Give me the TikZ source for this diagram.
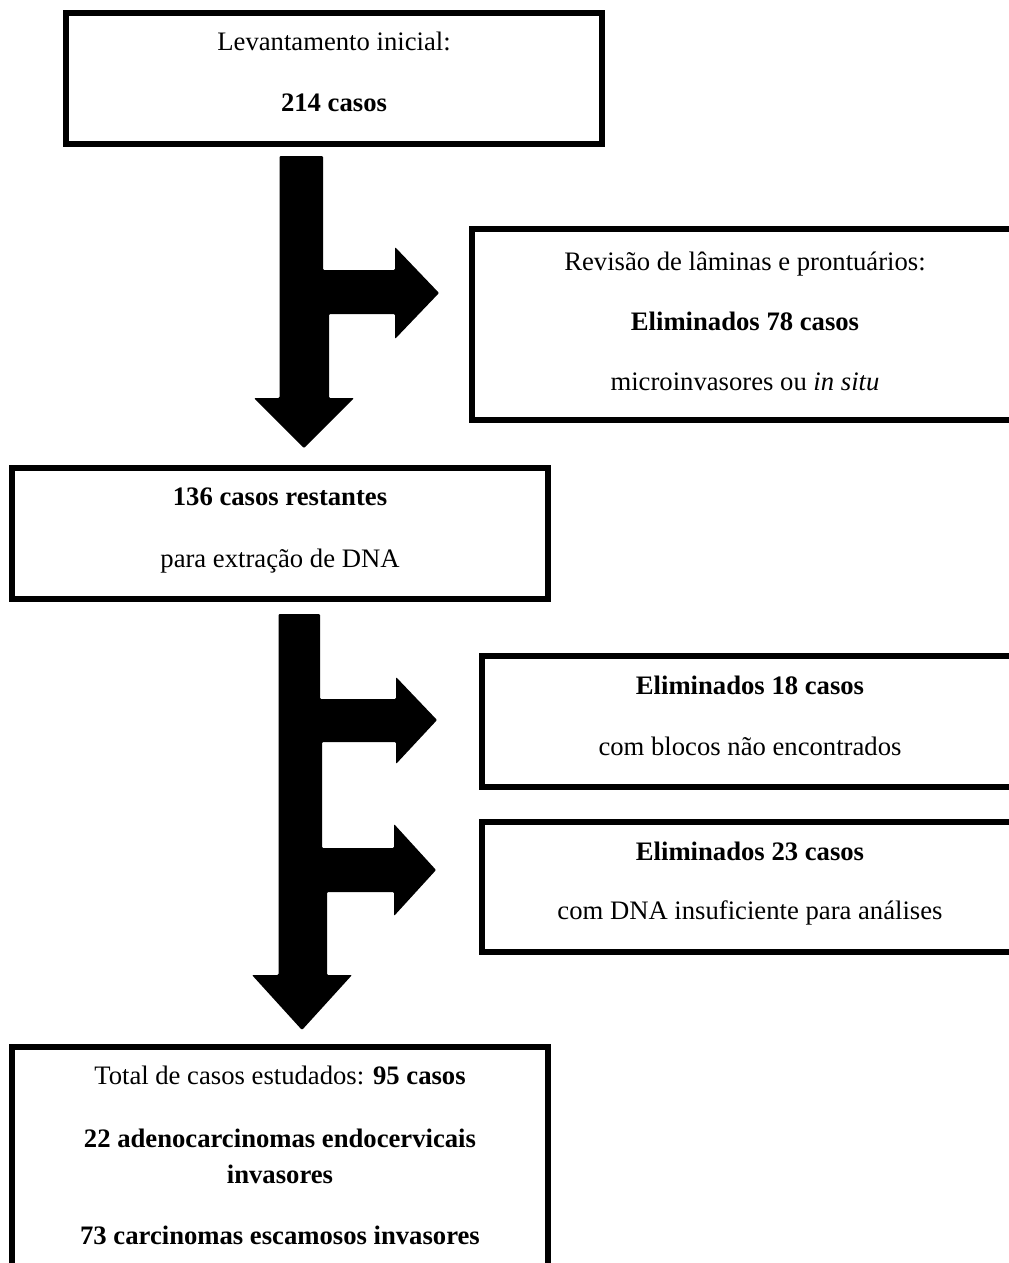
\documentclass[tikz,border=0pt]{standalone}
\usepackage{fontspec}
\setmainfont{Liberation Serif}
\usetikzlibrary{fit}
\begin{document}
\begin{tikzpicture}[x=0.75pt,y=-0.75pt,
  box/.style={draw=black,line width=4.1pt,inner sep=0pt,rectangle},
  txt/.style={anchor=base,inner sep=0pt,font=\fontsize{20}{24}\selectfont},
  blockarrow/.style={fill=black,rounded corners=0.8pt}]
\clip (0,0) rectangle (1009,1263);
\fill[white] (0,0) rectangle (1009,1263);
% boxes
\node[box,fit={(66,13) (602,144)}] (b1) {};
\node[box,fit={(472,229) (1018,420)}] (b2) {};
\node[box,fit={(12,468) (548,599)}] (b3) {};
\node[box,fit={(482,656) (1018,787)}] (b4) {};
\node[box,fit={(482,822) (1018,952)}] (b5) {};
\node[box,fit={(12,1047) (548,1300)}] (b6) {};
% texts
\node[txt] (t1a) at (334,51) {Levantamento inicial:};
\node[txt] (t1b) at (334,112) {\textbf{214 casos}};
\node[txt] (t2a) at (745,270) {Revisão de lâminas e prontuários:};
\node[txt] (t2b) at (745,330) {\textbf{Eliminados 78 casos}};
\node[txt] (t2c) at (745,390) {microinvasores ou \textit{in situ}};
\node[txt] (t3a) at (280,505) {\textbf{136 casos restantes}};
\node[txt] (t3b) at (280,567) {para extração de DNA};
\node[txt] (t4a) at (750,694) {\textbf{Eliminados 18 casos}};
\node[txt] (t4b) at (750,755) {com blocos não encontrados};
\node[txt] (t5a) at (750,860) {\textbf{Eliminados 23 casos}};
\node[txt] (t5b) at (750,919) {com DNA insuficiente para análises};
\node[txt] (t6a) at (280,1084) {Total de casos estudados: \textbf{95 casos}};
\node[txt] (t6b) at (280,1147) {\textbf{22 adenocarcinomas endocervicais}};
\node[txt] (t6c) at (280,1183) {\textbf{invasores}};
\node[txt] (t6d) at (280,1244) {\textbf{73 carcinomas escamosos invasores}};
% block arrows
\fill[blockarrow] (279.5,156) -- (323,156) -- (323,270) -- (395,270) -- (395,247)
  -- (439,293) -- (395,339) -- (395,314) -- (329,314) -- (329,398) -- (354,398)
  -- (304,448) -- (254,398) -- (279.5,398) -- cycle;
\fill[blockarrow] (278.5,614) -- (320,614) -- (320,699) -- (396,699) -- (396,677)
  -- (437,720) -- (396,764) -- (396,742) -- (322,742) -- (322,848) -- (394,848)
  -- (394,824) -- (436,870) -- (394,916) -- (394,892) -- (327,892) -- (327,975)
  -- (352,975) -- (302,1030) -- (252,975) -- (278.5,975) -- cycle;
\end{tikzpicture}
\end{document}
